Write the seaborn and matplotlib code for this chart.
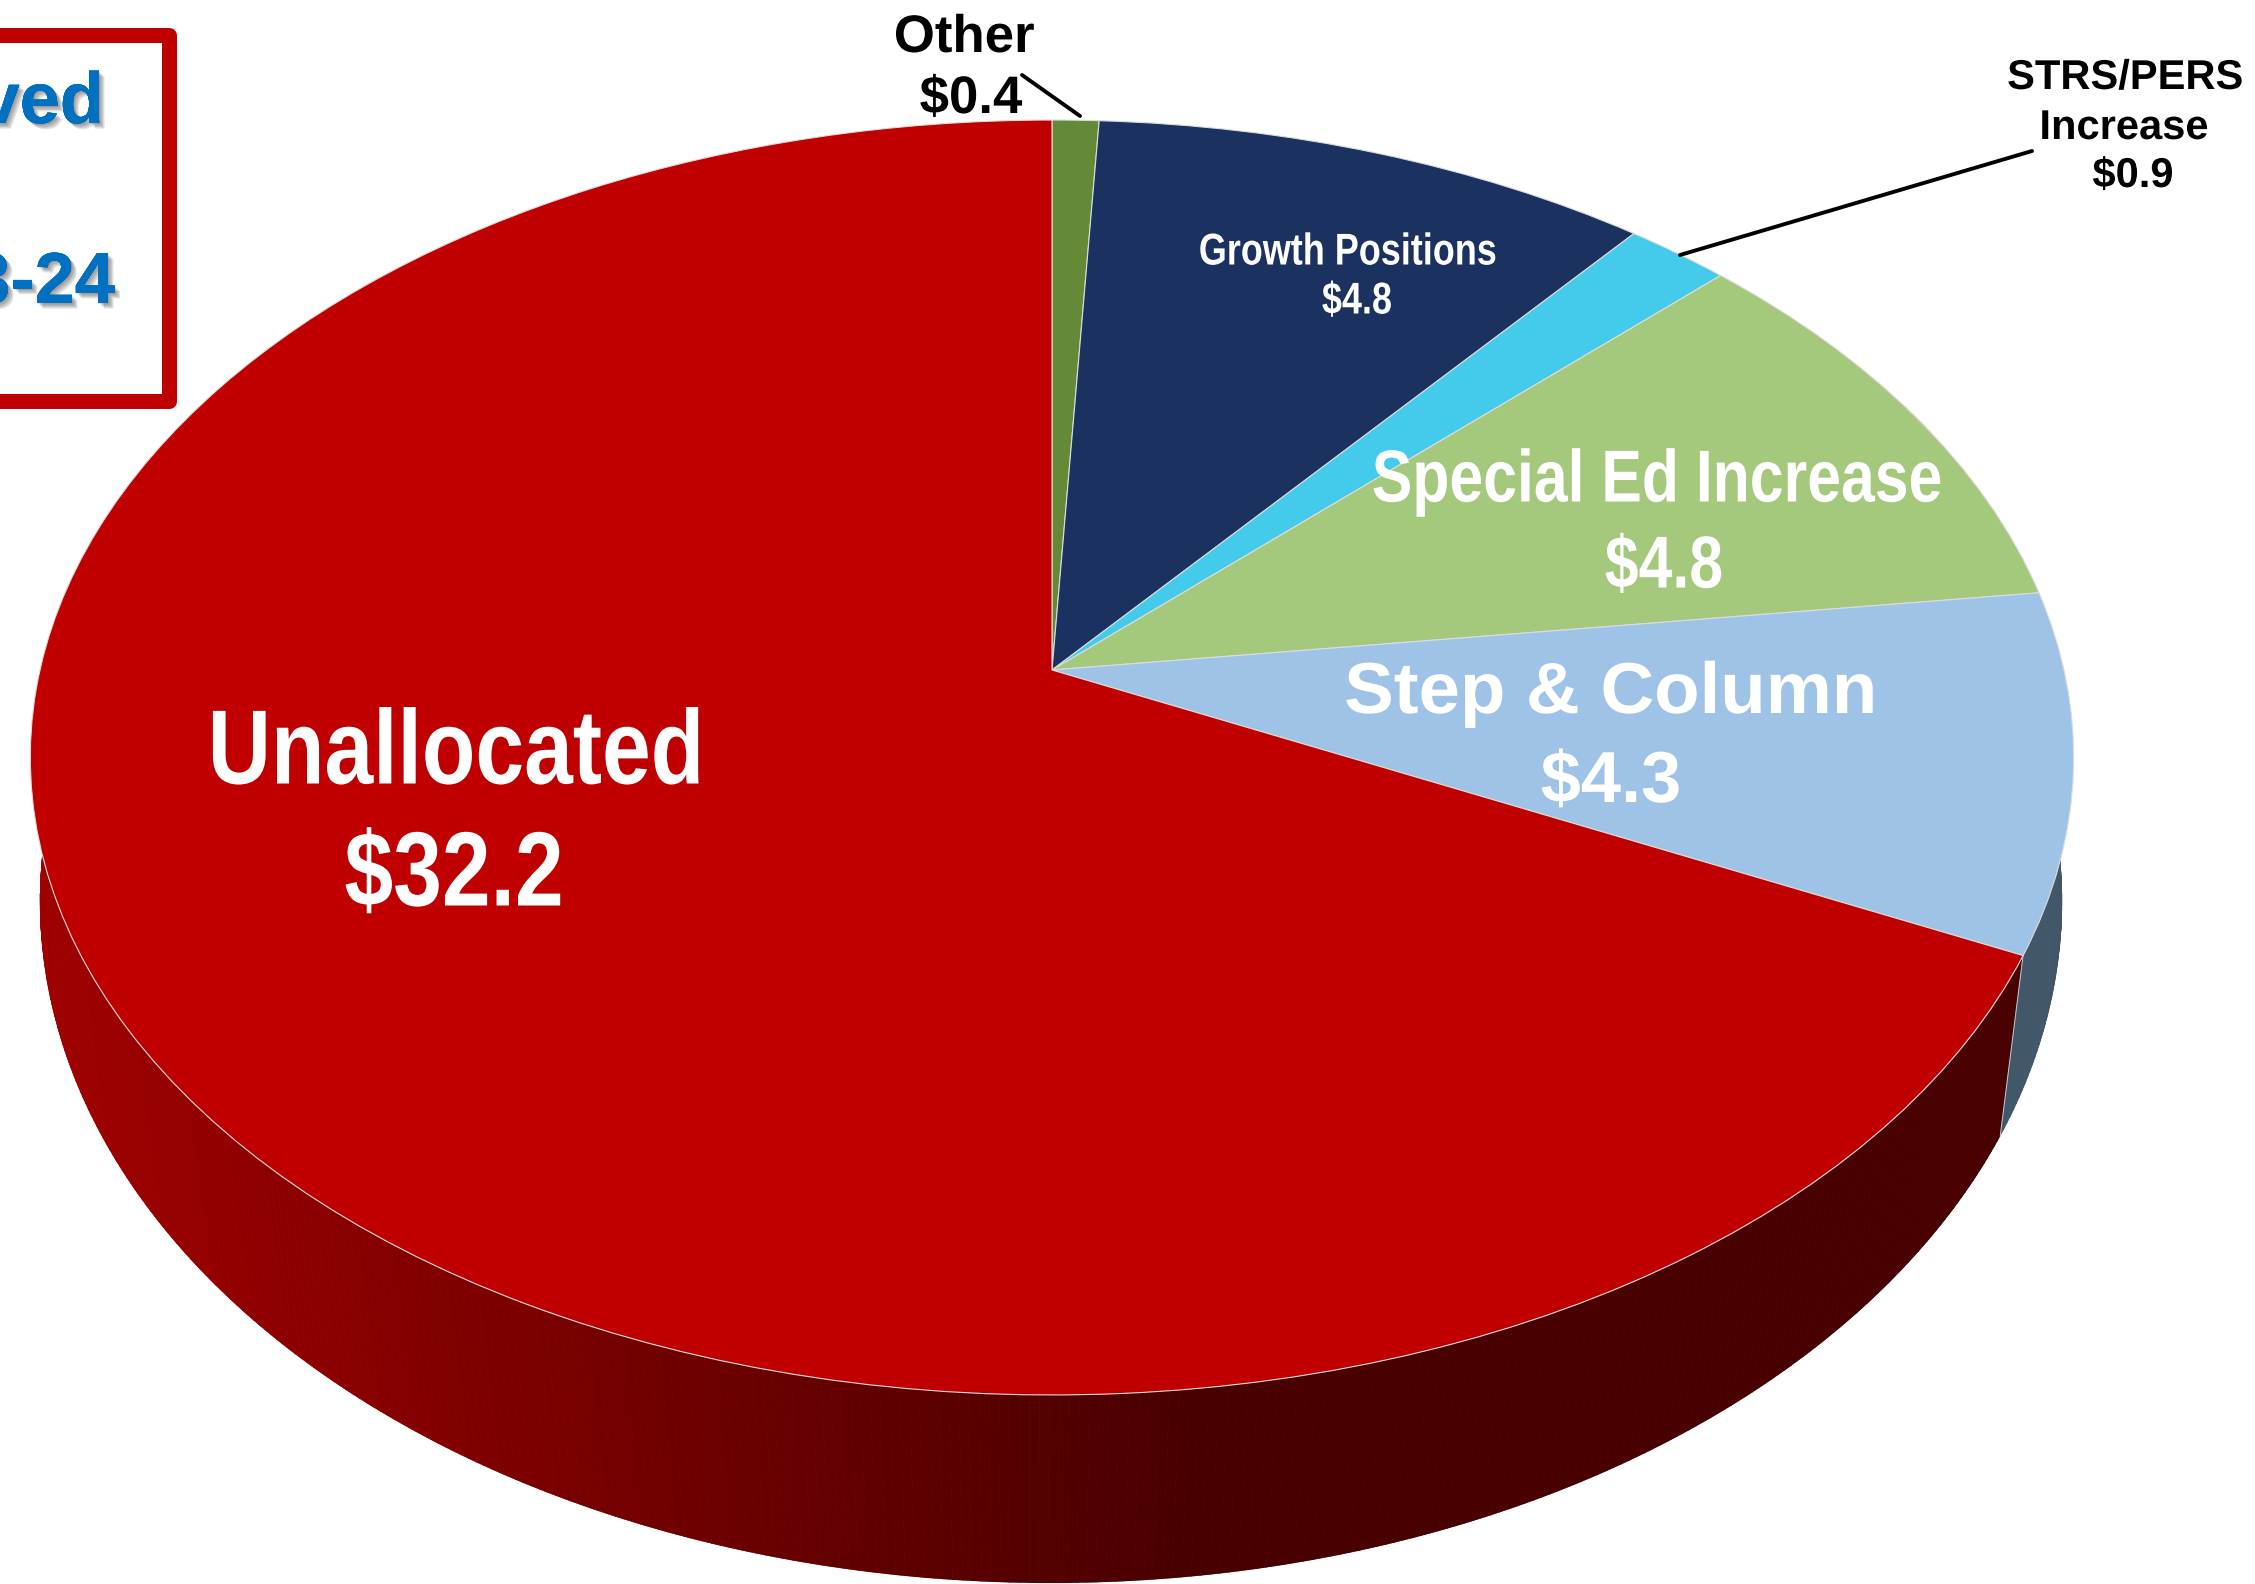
import numpy as np
import pandas as pd
import matplotlib
matplotlib.use("Agg")
import matplotlib.pyplot as plt
import matplotlib.patheffects as pe
from matplotlib.collections import PolyCollection
from matplotlib.patches import Rectangle
from matplotlib.path import Path
from matplotlib.transforms import Affine2D, Transform
import seaborn as sns

# ---------- data (clockwise from 12 o'clock) ----------
names = ["Other", "Growth Positions", "STRS/PERS Increase", "Special Ed Increase", "Step & Column", "Unallocated"]
values = [0.4, 4.8, 0.9, 4.8, 4.3, 32.2]
slice_colors = ["#648a38", "#1b3160", "#44cbec", "#a4c87c", "#9fc3e7", "#c00000"]
box_lines = ["ved", "3-24"]

df = pd.DataFrame({"name": names, "value": values, "color": slice_colors})

FONT = ["Liberation Sans", "DejaVu Sans"]


# perspective of the pie: unit circle -> picture pixels
class Tilt(Transform):
    input_dims = 2
    output_dims = 2

    def __init__(self, cx, a, c, b, m):
        super().__init__()
        self.p = (cx, a, c, b, m)

    def transform_non_affine(self, xy):
        cx, a, c, b, m = self.p
        xy = np.asarray(xy, dtype=float)
        d = 1 + m * xy[:, 1]
        return np.column_stack([cx + a * xy[:, 0] / d, (c - b * xy[:, 1]) / d])


# the original labels are condensed type, no narrow face is installed
class Squeeze(pe.AbstractPathEffect):
    def __init__(self, f):
        super().__init__()
        self.f = f

    def draw_path(self, renderer, gc, tpath, affine, rgbFace=None):
        renderer.draw_path(gc, tpath, Affine2D().scale(self.f, 1) + affine, rgbFace)


top = Tilt(1052, 1012, 670, 533.5, 0.13725)
bottom = Tilt(1051, 1006, 833.4, 591.4, 0.10)

sns.set_theme(style="white")
fig = plt.figure(figsize=(22.55, 15.84), dpi=100, facecolor="white")
ax = fig.add_axes([0, 0, 1, 1])

wedges, _ = ax.pie(df["value"], colors=sns.color_palette(slice_colors), startangle=90,
                   counterclock=False, wedgeprops=dict(edgecolor="#dcdcdc", linewidth=0.8))
for w in wedges:
    w.set_transform(top + ax.transData)
    w.set_zorder(3)

ax.set_aspect("auto")
ax.set_xlim(0, 2255)
ax.set_ylim(1584, 0)
ax.axis("off")


# ---------- side wall ----------
def wall(theta1, theta2, n=300):
    t = np.radians(np.linspace(theta1, theta2, n))
    ring = np.column_stack([np.cos(t), np.sin(t)])
    p, q = top.transform(ring), bottom.transform(ring)
    return [[p[i], p[i + 1], q[i + 1], q[i]] for i in range(n - 1)]


reds = sns.blend_palette(["#9e0000", "#480000"], 64)
red_wall = wall(wedges[5].theta1, wedges[5].theta2, 500)
mid_x = np.array([np.mean(s, axis=0)[0] for s in red_wall])
idx = np.clip((mid_x - 60) / 1130 * 63, 0, 63).astype(int)
red_cols = [reds[i] for i in idx]
walls = [
    PolyCollection(red_wall, facecolors=red_cols, edgecolors=red_cols, linewidths=0.6, zorder=1),
    PolyCollection(wall(wedges[4].theta1, wedges[4].theta2, 60), facecolors="#42566a",
                   edgecolors="#42566a", linewidths=0.6, zorder=1),
]
for c in walls:
    ax.add_collection(c)
    c.set_clip_path(Path.unit_circle(), bottom + ax.transData)

# seam between the two wall colours
seam = np.radians(wedges[4].theta1)
seam_pt = [[np.cos(seam), np.sin(seam)]]
p0, p1 = top.transform(seam_pt)[0], bottom.transform(seam_pt)[0]
ax.plot([p0[0], p1[0]], [p0[1], p1[1]], color="#c8c8c8", lw=0.7, zorder=2)

# ---------- labels ----------
renderer = fig.canvas.get_renderer()


def label(x, y, s, size, color="white", squeeze=1.0):
    t = ax.text(x, y, s, ha="left", va="center", fontsize=size, fontweight="bold",
                color=color, family=FONT, zorder=5, path_effects=[Squeeze(squeeze)])
    t.set_x(x - squeeze * t.get_window_extent(renderer).width / 2)


label(456, 756, "Unallocated", 76, squeeze=0.83)
label(454, 878, "$32.2", 76, squeeze=0.83)
label(1611, 694, "Step & Column", 52, squeeze=1.03)
label(1611, 783, "$4.3", 52)
label(1657, 482, "Special Ed Increase", 53, squeeze=0.825)
label(1664, 568, "$4.8", 53, squeeze=0.825)
label(1348, 253, "Growth Positions", 32, squeeze=0.81)
label(1357, 302, "$4.8", 32, squeeze=0.81)
label(964, 38, "Other", 38, color="black")
label(971, 99, "$0.4", 38, color="black")
label(2125, 78, "STRS/PERS", 30, color="black")
label(2124, 128, "Increase", 30, color="black")
label(2133, 176, "$0.9", 30, color="black")

# leader lines
ax.plot([1022, 1080], [75, 116], color="black", lw=2.8, zorder=4)
ax.plot([2032, 1680], [151, 255], color="black", lw=2.8, zorder=4)

# ---------- box, cut by the left edge ----------
ax.add_patch(Rectangle((-60, 34.5), 229, 366, facecolor="white", edgecolor="#c00000",
                       linewidth=10.8, joinstyle="round", zorder=2))
shadow = [pe.withSimplePatchShadow(offset=(o, -o), shadow_rgbFace="#404040", alpha=0.16) for o in (1, 2, 3, 4)]
for x, y, s in zip([104, 115], [123, 303], box_lines):
    ax.text(x, y, s, ha="right", va="baseline", fontsize=52, fontweight="bold", color="#0070c0",
            family=FONT, path_effects=shadow + [pe.Normal()], zorder=5)

fig.savefig("out.png", dpi=100, facecolor="white")
